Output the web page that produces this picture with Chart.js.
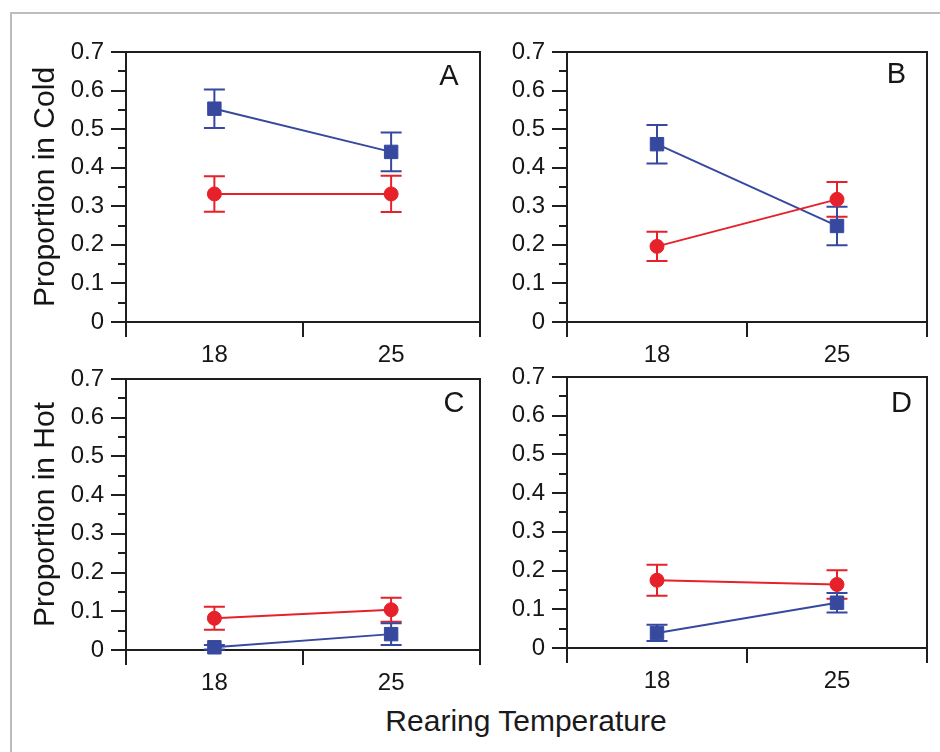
<!DOCTYPE html>
<html>
<head>
<meta charset="utf-8">
<script src="https://cdn.jsdelivr.net/npm/chart.js@4.4.1/dist/chart.umd.min.js"></script>
<style>
html, body { margin: 0; padding: 0; background: #fff; width: 940px; height: 752px; overflow: hidden; }
#frame { position: absolute; left: 10px; top: 12px; width: 960px; height: 780px; border-left: 2px solid #bdbdbd; border-top: 2px solid #bdbdbd; }
canvas { position: absolute; }
#xtitle { position: absolute; left: 276px; top: 706px; width: 500px; text-align: center; font-family: "Liberation Sans", Arial, sans-serif; font-size: 30px; line-height: 30px; color: #1a1a1a; }
</style>
</head>
<body>
<div id="frame"></div>
<canvas id="cA" width="490" height="372" style="left:0px;top:0px"></canvas>
<canvas id="cB" width="450" height="372" style="left:490px;top:0px"></canvas>
<canvas id="cC" width="490" height="360" style="left:0px;top:340px"></canvas>
<canvas id="cD" width="450" height="360" style="left:490px;top:340px"></canvas>
<div id="xtitle"></div>
<script>
// ---- data ----
const categories = ['18', '25'];
const yTickLabels = ['0', '0.1', '0.2', '0.3', '0.4', '0.5', '0.6', '0.7'];
const panelLetters = ['A', 'B', 'C', 'D'];
const yTitleCold = 'Proportion in Cold';
const yTitleHot = 'Proportion in Hot';
const xTitle = 'Rearing Temperature';

const blueA = [0.553, 0.441];
const blueErrA = [0.050, 0.050];
const redA = [0.332, 0.332];
const redErrA = [0.046, 0.047];

const blueB = [0.461, 0.249];
const blueErrB = [0.050, 0.050];
const redB = [0.196, 0.318];
const redErrB = [0.038, 0.045];

const blueC = [0.007, 0.041];
const blueErrC = [0.006, 0.028];
const redC = [0.082, 0.104];
const redErrC = [0.030, 0.031];

const blueD = [0.039, 0.117];
const blueErrD = [0.021, 0.025];
const redD = [0.175, 0.164];
const redErrD = [0.040, 0.037];

// ---- styles ----
const FONT = '"Liberation Sans", Arial, sans-serif';
const BLUE = '#37489f';
const RED = '#e6212a';
const AX = '#1e1e1e';
const TXT = '#161616';

document.getElementById('xtitle').textContent = xTitle;

const panelPlugin = {
  id: 'panelExtras',
  beforeDatasetsDraw(chart, args, opts) {
    const ctx = chart.ctx;
    const xs = chart.scales.x, ys = chart.scales.y;
    const area = chart.chartArea;
    ctx.save();
    // frame top and right
    ctx.strokeStyle = AX;
    ctx.lineWidth = 2;
    ctx.beginPath();
    ctx.moveTo(area.left, Math.round(area.top));
    ctx.lineTo(Math.round(area.right), Math.round(area.top));
    ctx.lineTo(Math.round(area.right), area.bottom);
    ctx.stroke();
    // minor y ticks
    for (let k = 0; k < 7; k++) {
      const y = Math.round(ys.getPixelForValue(0.05 + k * 0.1));
      ctx.beginPath();
      ctx.moveTo(area.left - 8, y);
      ctx.lineTo(area.left, y);
      ctx.stroke();
    }
    // error bars
    chart.data.datasets.forEach((ds, di) => {
      const errs = opts.errors[di];
      ctx.strokeStyle = ds.borderColor;
      ctx.lineWidth = 2;
      ds.data.forEach((v, i) => {
        const x = xs.getPixelForValue(i);
        const yt = ys.getPixelForValue(v + errs[i]);
        const yb = ys.getPixelForValue(Math.max(0, v - errs[i]));
        ctx.beginPath();
        ctx.moveTo(x, yt); ctx.lineTo(x, yb);
        ctx.moveTo(x - 10.5, yt); ctx.lineTo(x + 10.5, yt);
        ctx.moveTo(x - 10.5, yb); ctx.lineTo(x + 10.5, yb);
        ctx.stroke();
      });
    });
    // panel letter
    ctx.fillStyle = TXT;
    ctx.font = '29px ' + FONT;
    ctx.textAlign = 'right';
    ctx.textBaseline = 'alphabetic';
    ctx.fillText(opts.letter, area.right - opts.lx, area.top + opts.ly);
    ctx.restore();
  }
};

function makeChart(id, cfg) {
  return new Chart(document.getElementById(id), {
    type: 'line',
    data: {
      labels: categories,
      datasets: [
        { label: 'red', data: cfg.red, borderColor: RED, backgroundColor: RED, pointBackgroundColor: RED,
          pointBorderColor: RED, pointStyle: 'circle', pointRadius: 7, pointBorderWidth: 1, borderWidth: 2,
          tension: 0, clip: false },
        { label: 'blue', data: cfg.blue, borderColor: BLUE, backgroundColor: BLUE, pointBackgroundColor: BLUE,
          pointBorderColor: BLUE, pointStyle: 'rect', pointRadius: 9.5, pointBorderWidth: 1, borderWidth: 2,
          tension: 0, clip: false }
      ]
    },
    options: {
      responsive: false,
      animation: false,
      devicePixelRatio: 1,
      events: [],
      layout: { padding: cfg.padding },
      plugins: {
        legend: { display: false },
        tooltip: { enabled: false },
        panelExtras: { errors: [cfg.redErr, cfg.blueErr], letter: cfg.letter, lx: cfg.lx, ly: cfg.ly }
      },
      scales: {
        x: {
          type: 'category',
          offset: true,
          grid: { offset: true, drawOnChartArea: false, drawTicks: true, tickLength: 15, color: AX, lineWidth: 2 },
          border: { display: true, color: AX, width: 2 },
          ticks: { font: { family: FONT, size: 24 }, color: TXT, padding: 4, maxRotation: 0, autoSkip: false },
          afterFit(s) { s.height = cfg.xh; }
        },
        y: {
          min: 0, max: 0.7,
          ticks: { stepSize: 0.1, font: { family: FONT, size: 24 }, color: TXT, padding: 7,
                   callback: (v) => yTickLabels[Math.round(v * 10)] },
          grid: { drawOnChartArea: false, drawTicks: true, tickLength: 15, color: AX, lineWidth: 2 },
          border: { display: true, color: AX, width: 2 },
          title: { display: !!cfg.ytitle, text: cfg.ytitle || '', font: { family: FONT, size: 30 }, color: TXT,
                   padding: { top: 28, bottom: 0 } },
          afterFit(s) { s.width = cfg.yw; }
        }
      }
    },
    plugins: [panelPlugin]
  });
}

makeChart('cA', { red: redA, redErr: redErrA, blue: blueA, blueErr: blueErrA, letter: panelLetters[0],
  padding: { top: 52, left: 0, right: 5, bottom: 0 }, yw: 126, xh: 50, ytitle: yTitleCold, lx: 21, ly: 33 });
makeChart('cB', { red: redB, redErr: redErrB, blue: blueB, blueErr: blueErrB, letter: panelLetters[1],
  padding: { top: 52, left: 0, right: 13, bottom: 0 }, yw: 77, xh: 50, ytitle: '', lx: 21, ly: 31 });
makeChart('cC', { red: redC, redErr: redErrC, blue: blueC, blueErr: blueErrC, letter: panelLetters[2],
  padding: { top: 39, left: 0, right: 5, bottom: 0 }, yw: 126, xh: 50, ytitle: yTitleHot, lx: 15, ly: 33 });
makeChart('cD', { red: redD, redErr: redErrD, blue: blueD, blueErr: blueErrD, letter: panelLetters[3],
  padding: { top: 37, left: 0, right: 13, bottom: 0 }, yw: 77, xh: 52, ytitle: '', lx: 15, ly: 35 });
</script>
</body>
</html>
